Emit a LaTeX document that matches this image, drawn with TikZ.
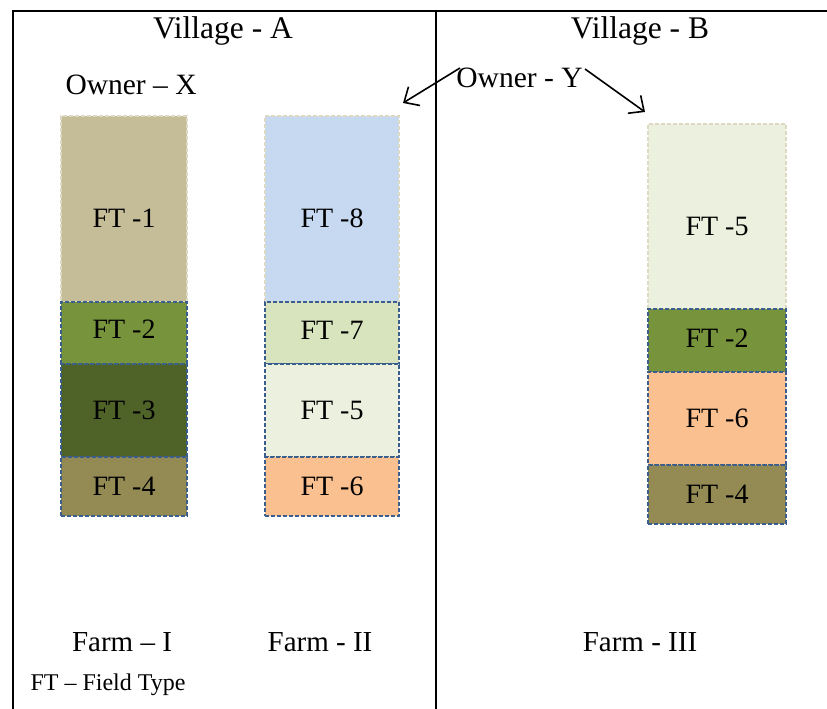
\documentclass[tikz,border=0pt]{standalone}
\usepackage{fontspec}
\setmainfont{Liberation Serif}
\usetikzlibrary{arrows.meta}
\definecolor{ftone}{HTML}{C4BD97}
\definecolor{fttwo}{HTML}{77933C}
\definecolor{ftthree}{HTML}{4F6228}
\definecolor{ftfour}{HTML}{948A54}
\definecolor{ftfive}{HTML}{EBF1DE}
\definecolor{ftsix}{HTML}{FAC090}
\definecolor{ftseven}{HTML}{D7E4BD}
\definecolor{fteight}{HTML}{C6D9F1}
\definecolor{edgebeige}{HTML}{DDD9C3}
\definecolor{edgeblue}{HTML}{3A5F8E}
% move a label down inside its box while keeping the box size
\newcommand\lowered[2]{\raisebox{-#1pt}[\height][\depth]{#2}}
\tikzset{
  x=1pt, y=-1pt,
  frame/.style={line width=2pt, black},
  field/.style={rectangle, inner sep=0pt, line width=1.8pt,
    dash pattern=on 4pt off 2pt, font=\fontsize{28}{32}\selectfont},
  topfield/.style={field, draw=edgebeige},
  lowfield/.style={field, draw=edgeblue},
  head/.style={anchor=base, font=\fontsize{31.5}{36}\selectfont},
  owner/.style={anchor=base, font=\fontsize{29.5}{34}\selectfont},
  farm/.style={anchor=base, font=\fontsize{29}{34}\selectfont},
  pointer/.style={line width=1.6pt, -{Straight Barb[length=12pt,width=22pt,line width=1.6pt]}}
}
\begin{document}
\begin{tikzpicture}
\useasboundingbox (0,0) rectangle (827,709);
% outer frame and the divider between the two villages
\coordinate (tr) at (827,11);
\coordinate (tl) at (13,11);
\coordinate (bl) at (13,709);
\coordinate (mt) at (435.5,11);
\coordinate (mb) at (435.5,709);
\draw[frame] (tr) -- (tl) -- (bl);
\draw[frame] (mt) -- (mb);

% headings
\node[head] (va) at (223,39) {Village - A};
\node[head] (vb) at (640,39) {Village - B};
\node[owner, anchor=base west] (ox) at (62,94) {Owner – X};
\node[owner] (oy) at (519.5,87) {Owner - Y};

% Farm I
\node[topfield, fill=ftone, minimum width=126pt, minimum height=186pt] (a1) at (124,209) {\lowered{9}{FT -1}};
\node[lowfield, fill=fttwo, minimum width=126pt, minimum height=62pt] (a2) at (124,333) {\lowered{-4}{FT -2}};
\node[lowfield, fill=ftthree, minimum width=126pt, minimum height=93pt] (a3) at (124,410.5) {FT -3};
\node[lowfield, fill=ftfour, minimum width=126pt, minimum height=59pt] (a4) at (124,486.5) {FT -4};

% Farm II
\node[topfield, fill=fteight, minimum width=134pt, minimum height=186pt] (b8) at (332,209) {\lowered{9}{FT -8}};
\node[lowfield, fill=ftseven, minimum width=134pt, minimum height=62pt] (b7) at (332,333) {\lowered{-3}{FT -7}};
\node[lowfield, fill=ftfive, minimum width=134pt, minimum height=93pt] (b5) at (332,410.5) {FT -5};
\node[lowfield, fill=ftsix, minimum width=134pt, minimum height=59pt] (b6) at (332,486.5) {FT -6};

% Farm III
\node[topfield, fill=ftfive, minimum width=138pt, minimum height=185pt] (c5) at (717,216.5) {\lowered{10}{FT -5}};
\node[lowfield, fill=fttwo, minimum width=138pt, minimum height=63pt] (c2) at (717,340.5) {\lowered{-2}{FT -2}};
\node[lowfield, fill=ftsix, minimum width=138pt, minimum height=93pt] (c6) at (717,418.5) {FT -6};
\node[lowfield, fill=ftfour, minimum width=138pt, minimum height=59pt] (c4) at (717,494.5) {FT -4};

% owner Y holds Farm II and Farm III
\coordinate (oyl) at (460,68);
\coordinate (oyr) at (585,69);
\coordinate (toii) at (403,103);
\coordinate (toiii) at (645,112);
\draw[pointer] (oyl) -- (toii);
\draw[pointer] (oyr) -- (toiii);

% farm names and legend
\node[farm] (fi) at (122,651) {Farm – I};
\node[farm] (fii) at (320,651) {Farm - II};
\node[farm] (fiii) at (640,651) {Farm - III};
\node[anchor=base west, font=\fontsize{24}{28}\selectfont] (legend) at (27,690) {FT – Field Type};
\end{tikzpicture}
\end{document}
